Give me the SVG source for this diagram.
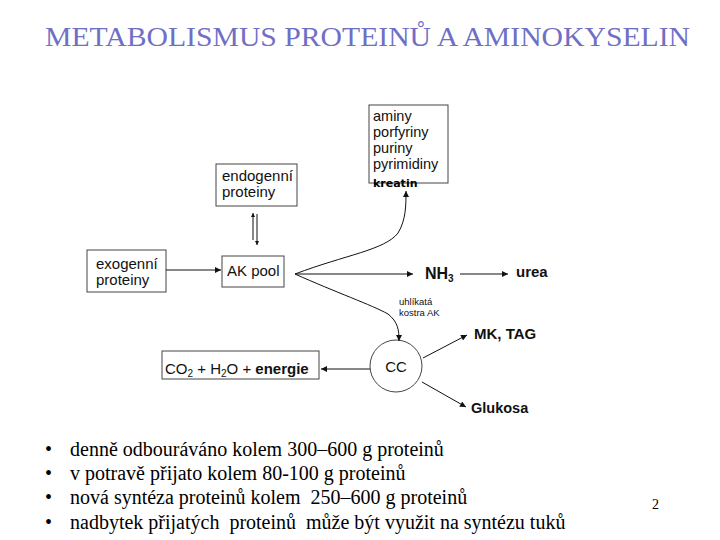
<svg xmlns="http://www.w3.org/2000/svg" width="720" height="540" viewBox="0 0 720 540">
<defs>
<style>
.box{fill:#fff;stroke:#444;stroke-width:1}
.ln{fill:none;stroke:#111;stroke-width:1}
.t{font-family:"Liberation Sans",Arial,sans-serif;fill:#111}
.b{font-family:"Liberation Sans",Arial,sans-serif;font-weight:bold;fill:#111}
.s{font-family:"Liberation Serif","Times New Roman",serif;fill:#000;white-space:pre}
</style>
<marker id="ah" viewBox="0 0 10 10" refX="10" refY="5" markerWidth="8" markerHeight="6" markerUnits="userSpaceOnUse" orient="auto">
<path d="M0,0 L10,5 L0,10 z" fill="#111"/>
</marker>
<marker id="ahs" viewBox="0 0 10 10" refX="10" refY="5" markerWidth="6" markerHeight="4" markerUnits="userSpaceOnUse" orient="auto">
<path d="M0,0 L10,5 L0,10 z" fill="#111"/>
</marker>
</defs>
<rect width="720" height="540" fill="#fff"/>
<text x="45" y="46" font-family="Liberation Serif,Times New Roman,serif" font-size="27" fill="#6f6fc6" textLength="645" lengthAdjust="spacingAndGlyphs">METABOLISMUS PROTEINŮ A AMINOKYSELIN</text>

<g id="deriv">
<rect x="369" y="105" width="79" height="78" class="box"/>
<text x="373" y="121" class="t" font-size="14.5">aminy</text>
<text x="373" y="137" class="t" font-size="14.5">porfyriny</text>
<text x="373" y="153" class="t" font-size="14.5">puriny</text>
<text x="373" y="169" class="t" font-size="14.5">pyrimidiny</text>
<text x="373" y="187" font-family="DejaVu Sans,sans-serif" font-size="11" font-weight="bold" fill="#000">kreatin</text>
</g>
<g id="endo">
<rect x="216" y="164" width="81" height="42" class="box"/>
<text x="222" y="181" class="t" font-size="15">endogenní</text>
<text x="222" y="197" class="t" font-size="15">proteiny</text>
</g>
<g id="exo">
<rect x="87" y="250" width="79" height="42" class="box"/>
<text x="96" y="269" class="t" font-size="15">exogenní</text>
<text x="96" y="285" class="t" font-size="15">proteiny</text>
</g>
<g id="akpool">
<rect x="222" y="256" width="62" height="31" class="box"/>
<text x="227" y="276" class="t" font-size="15">AK pool</text>
</g>
<g id="nh3">
<text x="425" y="279" class="b" font-size="16">NH<tspan font-size="10" dy="3">3</tspan></text>
</g>
<g id="urea">
<text x="516" y="277" class="b" font-size="15">urea</text>
</g>
<g id="cc">
<circle cx="396" cy="366" r="26" fill="#fff" stroke="#444"/>
<text x="396" y="372" class="t" font-size="15" text-anchor="middle">CC</text>
</g>
<g id="co2">
<rect x="162" y="351" width="157" height="28" class="box"/>
<text x="165" y="374" class="t" font-size="15">CO<tspan font-size="10" dy="3">2</tspan><tspan dy="-3"> + H</tspan><tspan font-size="10" dy="3">2</tspan><tspan dy="-3">O + </tspan><tspan font-weight="bold">energie</tspan></text>
</g>
<g id="mktag">
<text x="474" y="339" class="b" font-size="15">MK, TAG</text>
</g>
<g id="glukosa">
<text x="471" y="413" class="b" font-size="14.5">Glukosa</text>
</g>
<g id="label">
<text x="399" y="305" class="t" font-size="9.5">uhlíkatá</text>
<text x="399" y="316" class="t" font-size="9.5">kostra AK</text>
</g>

<g id="connectors">
<line x1="166" y1="270" x2="221" y2="270" class="ln" marker-end="url(#ah)"/>
<line x1="253" y1="240" x2="253" y2="213" class="ln" marker-end="url(#ahs)"/>
<line x1="257" y1="214" x2="257" y2="245" class="ln" marker-end="url(#ahs)"/>
<line x1="295" y1="274" x2="413" y2="274" class="ln" marker-end="url(#ah)"/>
<line x1="460" y1="274" x2="508" y2="274" class="ln" marker-end="url(#ah)"/>
<path d="M295,274 C345,255 385,250 398,233 C406,220 406,205 406,191" class="ln" marker-end="url(#ah)"/>
<path d="M295,274 C335,292 372,305 388,314 C398,322 399,330 399,341" class="ln" marker-end="url(#ah)"/>
<line x1="370" y1="369" x2="321" y2="369" class="ln" stroke="#555" marker-end="url(#ah)"/>
<line x1="423" y1="358" x2="467" y2="335" class="ln" marker-end="url(#ah)"/>
<line x1="422" y1="382" x2="466" y2="407" class="ln" marker-end="url(#ah)"/>
</g>

<g id="bullets" font-size="20">
<text x="45" y="456" class="s">•</text><text x="70" y="456" class="s">denně odbouráváno kolem 300–600 g proteinů</text>
<text x="45" y="480" class="s">•</text><text x="70" y="480" class="s">v potravě přijato kolem 80-100 g proteinů</text>
<text x="45" y="504" class="s">•</text><text x="70" y="504" class="s">nová syntéza proteinů kolem  250–600 g proteinů</text>
<text x="45" y="529" class="s">•</text><text x="70" y="529" class="s">nadbytek přijatých  proteinů  může být využit na syntézu tuků</text>
</g>
<text x="652" y="509" class="s" font-size="14">2</text>
</svg>
